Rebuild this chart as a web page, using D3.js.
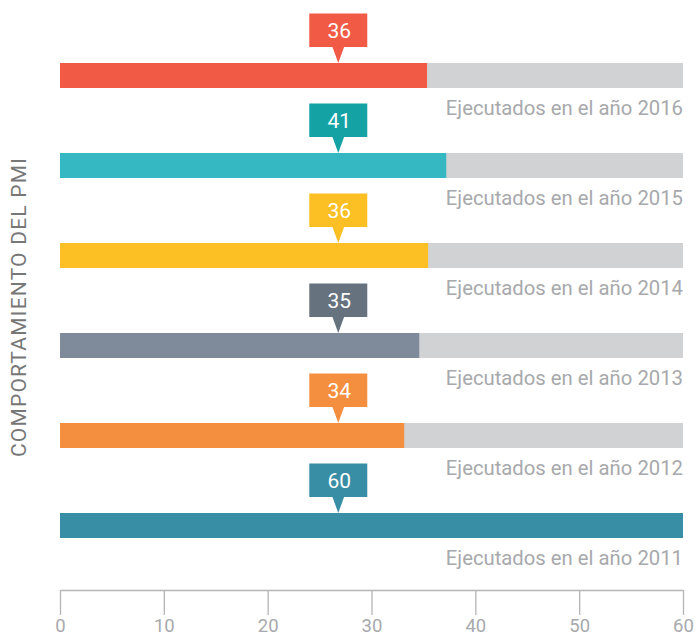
<!DOCTYPE html>
<html>
<head>
<meta charset="utf-8">
<script src="https://cdn.jsdelivr.net/npm/d3@7"></script>
<style>
  body { margin: 0; background: #fff; }
  text { font-family: Roboto, "Noto Sans", sans-serif; }
</style>
</head>
<body>
<div id="chart"></div>
<script>
// data
var years = ["2016", "2015", "2014", "2013", "2012", "2011"];
var barValues = [35.35, 37.2, 35.45, 34.6, 33.15, 60];
var calloutLabels = [36, 41, 36, 35, 34, 60];
var barColors = ["#f15a45", "#35b8c1", "#fcbf24", "#7f8b9b", "#f58f40", "#388ea4"];
var calloutColors = ["#f15a45", "#15a2a5", "#fcbf24", "#67727f", "#f58f40", "#388ea4"];
var xTicks = [0, 10, 20, 30, 40, 50, 60];
var calloutAt = 26.8;

var svgWidth = 699;
var svgHeight = 634;

var svg = d3.select("#chart")
  .append("svg")
  .attr("width", svgWidth)
  .attr("height", svgHeight);

var xScale = d3.scaleLinear()
  .domain([0, 60])
  .range([60, 683]);

var yScale = d3.scaleBand()
  .domain(years)
  .range([63 - 32.5, 63 + 6 * 90 - 32.5])
  .paddingInner(0);

var barH = 25;
function barTop(d) { return yScale(d) + (yScale.bandwidth() - barH) / 2; }

var rows = svg.selectAll(".row")
  .data(years)
  .enter()
  .append("g")
  .attr("class", "row");

// grey track
rows.append("rect")
  .attr("x", xScale(0))
  .attr("y", d => barTop(d))
  .attr("width", xScale(60) - xScale(0))
  .attr("height", barH)
  .attr("fill", "#d1d2d4");

// value bar
rows.append("rect")
  .attr("x", xScale(0))
  .attr("y", d => barTop(d))
  .attr("width", (d, i) => xScale(barValues[i]) - xScale(0))
  .attr("height", barH)
  .attr("fill", (d, i) => barColors[i]);

// label under each bar
rows.append("text")
  .attr("x", xScale(60))
  .attr("y", d => barTop(d) + barH + 27)
  .attr("text-anchor", "end")
  .attr("font-size", "20.3px")
  .attr("fill", "#a7a9ac")
  .text(d => "Ejecutados en el año " + d);

// callouts
var cx = xScale(calloutAt);
rows.append("rect")
  .attr("x", cx - 29)
  .attr("y", d => barTop(d) - 49.5)
  .attr("width", 58)
  .attr("height", 33.5)
  .attr("fill", (d, i) => calloutColors[i]);

rows.append("path")
  .attr("d", d => {
    var b = barTop(d);
    return "M" + (cx - 6) + "," + (b - 16.5) + "L" + (cx + 6) + "," + (b - 16.5) + "L" + cx + "," + b + "Z";
  })
  .attr("fill", (d, i) => calloutColors[i]);

rows.append("text")
  .attr("x", cx + 1)
  .attr("y", d => barTop(d) - 25)
  .attr("text-anchor", "middle")
  .attr("font-size", "21px")
  .attr("fill", "#fff")
  .text((d, i) => calloutLabels[i]);

// x axis
var axisY = 590;
var xAxis = d3.axisBottom(xScale)
  .tickValues(xTicks)
  .tickSize(25)
  .tickPadding(4)
  .tickSizeOuter(0);

var gx = svg.append("g")
  .attr("transform", `translate(0, ${axisY})`)
  .call(xAxis);
gx.select(".domain").attr("stroke", "#b5b5b5").attr("stroke-width", 1.3);
gx.selectAll(".tick line").attr("stroke", "#b5b5b5").attr("stroke-width", 1.3);
gx.selectAll(".tick text")
  .attr("font-family", "Roboto, 'Noto Sans', sans-serif")
  .attr("font-size", "18.5px")
  .attr("fill", "#a7a9ac");

// y title
svg.append("text")
  .attr("transform", "translate(26, 307) rotate(-90)")
  .attr("text-anchor", "middle")
  .attr("font-size", "21px")
  .attr("letter-spacing", "1.2px")
  .attr("fill", "#777777")
  .text("COMPORTAMIENTO DEL PMI");
</script>
</body>
</html>
